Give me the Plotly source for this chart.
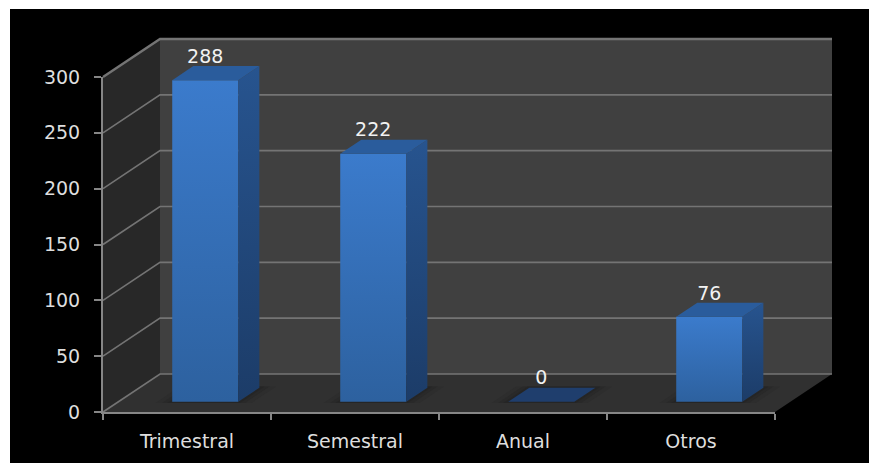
import plotly.graph_objects as go

# Chart data
categories = ["Trimestral", "Semestral", "Anual", "Otros"]
values = [288, 222, 0, 76]
y_ticks = [0, 50, 100, 150, 200, 250, 300]

# Canvas layout, in pixels
WIDTH, HEIGHT = 869, 463
PX_PER_X, PX_PER_Y = 168.0, 335 / 300
AXIS_LEFT, AXIS_BOTTOM = 103, 412
PAD = 3
FRAME_LEFT, FRAME_TOP = 10, 9

# Oblique projection: how far one unit of depth moves a point, in axis units
DEPTH_X = 57 / PX_PER_X
DEPTH_Y = 38 / PX_PER_Y
BAR_WIDTH = 0.393
BAR_NEAR = 0.27
BAR_FAR = 0.64
BAR_SHIFT = 0.017
Y_MAX = y_ticks[-1]
X_MIN, X_MAX = -0.5, len(categories) - 0.5

# The scene axes reach past the tick axes so the receding box fits inside them
PAD_X, PAD_Y = PAD / PX_PER_X, PAD / PX_PER_Y
scene_x = [X_MIN - PAD_X, X_MAX + DEPTH_X + PAD_X]
scene_y = [-PAD_Y, Y_MAX + DEPTH_Y + PAD_Y]
plot_w = 672 + 57 + 2 * PAD
plot_h = 335 + 38 + 2 * PAD
m_left = AXIS_LEFT - PAD
m_bottom = HEIGHT - AXIS_BOTTOM - PAD
m_right = WIDTH - m_left - plot_w
m_top = HEIGHT - m_bottom - plot_h


def proj(x, y, d):
    return x + d * DEPTH_X, y + d * DEPTH_Y


def polygon(points, color=None, gradient=None, opacity=1.0):
    xs, ys = zip(*points)
    kw = dict(fillcolor=color) if gradient is None else dict(
        fillgradient=dict(type="vertical", colorscale=[[0, gradient[0]], [1, gradient[1]]])
    )
    return go.Scatter(
        x=list(xs) + [xs[0]], y=list(ys) + [ys[0]], mode="lines", fill="toself",
        line=dict(width=0), opacity=opacity, hoverinfo="skip", showlegend=False, **kw,
    )


def wire(points, color="#747474", width=1.6):
    xs, ys = zip(*points)
    return go.Scatter(
        x=xs, y=ys, mode="lines", line=dict(color=color, width=width),
        hoverinfo="skip", showlegend=False,
    )


fig = go.Figure()

# Walls and floor of the box
fig.add_trace(polygon([proj(X_MIN, 0, 1), proj(X_MAX, 0, 1), proj(X_MAX, Y_MAX, 1), proj(X_MIN, Y_MAX, 1)], "#404040"))
fig.add_trace(polygon([proj(X_MIN, 0, 0), proj(X_MIN, 0, 1), proj(X_MIN, Y_MAX, 1), proj(X_MIN, Y_MAX, 0)], "#282828"))
fig.add_trace(polygon([proj(X_MIN, 0, 0), proj(X_MAX, 0, 0), proj(X_MAX, 0, 1), proj(X_MIN, 0, 1)], "#303030"))

# Gridlines run along the side wall and across the back wall
for t in y_ticks:
    fig.add_trace(wire([proj(X_MIN, t, 0), proj(X_MIN, t, 1), proj(X_MAX, t, 1)],
                       width=2.4 if t == Y_MAX else 1.6))

# Soft contact shadows on the floor
for i in range(len(categories)):
    c = i + BAR_SHIFT
    for grow, op in ((0.09, 0.25), (0.05, 0.4), (0.02, 0.5)):
        fig.add_trace(polygon([
            proj(c - BAR_WIDTH / 2 - grow, 0, BAR_NEAR - 0.03),
            proj(c + BAR_WIDTH / 2 + grow, 0, BAR_NEAR - 0.03),
            proj(c + BAR_WIDTH / 2 + grow, 0, BAR_FAR + 0.03),
            proj(c - BAR_WIDTH / 2 - grow, 0, BAR_FAR + 0.03),
        ], "#222222", opacity=op))

# Front faces
fig.add_trace(go.Bar(
    x=[i + BAR_SHIFT + BAR_NEAR * DEPTH_X for i in range(len(categories))],
    y=values,
    base=[BAR_NEAR * DEPTH_Y] * len(values),
    width=BAR_WIDTH,
    marker=dict(color="#3470b8", line=dict(width=0)),
    hoverinfo="skip", showlegend=False,
))

for i, v in enumerate(values):
    c = i + BAR_SHIFT
    l, r = c - BAR_WIDTH / 2, c + BAR_WIDTH / 2
    if v > 0:
        # Front shading, right side and lid
        fig.add_trace(polygon([proj(l, 0, BAR_NEAR), proj(r, 0, BAR_NEAR), proj(r, v, BAR_NEAR), proj(l, v, BAR_NEAR)],
                              gradient=("#2d619f", "#3b7bcc")))
        fig.add_trace(polygon([proj(r, 0, BAR_NEAR), proj(r, 0, BAR_FAR), proj(r, v, BAR_FAR), proj(r, v, BAR_NEAR)],
                              gradient=("#1c3c68", "#27548f")))
        fig.add_trace(polygon([proj(l, v, BAR_NEAR), proj(r, v, BAR_NEAR), proj(r, v, BAR_FAR), proj(l, v, BAR_FAR)],
                              "#2a5c9c"))
    else:
        # A zero-height column shows only its lid
        fig.add_trace(polygon([proj(l, v, BAR_NEAR), proj(r, v, BAR_NEAR), proj(r, v, BAR_FAR), proj(l, v, BAR_FAR)],
                              "#1f3e6d"))

# Value labels sit just above each lid
fig.add_trace(go.Scatter(
    x=[i + BAR_SHIFT + BAR_NEAR * DEPTH_X for i in range(len(categories))],
    y=[v + 29 for v in values],
    mode="text",
    text=[str(v) for v in values],
    textposition="middle center",
    textfont=dict(family="DejaVu Sans", size=19, color="#f2f2f2"),
    hoverinfo="skip", showlegend=False,
))

# The tick axes belong to the front plane of the box
fig.add_trace(go.Scatter(x=[0], y=[0], mode="markers", marker=dict(opacity=0), xaxis="x2", yaxis="y2",
                         hoverinfo="skip", showlegend=False))

# White page edge along the top and left of the black canvas
fig.add_shape(type="rect", xref="paper", yref="paper",
              x0=-m_left / plot_w, x1=(FRAME_LEFT - m_left) / plot_w,
              y0=-m_bottom / plot_h, y1=(HEIGHT - m_bottom) / plot_h,
              fillcolor="#ffffff", line=dict(width=0), layer="below")
fig.add_shape(type="rect", xref="paper", yref="paper",
              x0=-m_left / plot_w, x1=(WIDTH - m_left) / plot_w,
              y0=(HEIGHT - FRAME_TOP - m_bottom) / plot_h, y1=(HEIGHT - m_bottom) / plot_h,
              fillcolor="#ffffff", line=dict(width=0), layer="below")

axis_font = dict(family="DejaVu Sans", size=19, color="#dedede")
axis_grey = "#868686"
fig.update_layout(
    width=WIDTH, height=HEIGHT,
    margin=dict(l=m_left, r=m_right, t=m_top, b=m_bottom, pad=0, autoexpand=False),
    paper_bgcolor="#000000", plot_bgcolor="rgba(0,0,0,0)",
    showlegend=False, barmode="overlay",
    xaxis=dict(range=scene_x, visible=False, fixedrange=True, automargin=False),
    yaxis=dict(range=scene_y, visible=False, fixedrange=True, automargin=False),
    xaxis2=dict(
        domain=[PAD / plot_w, (PAD + 672) / plot_w],
        anchor="y2", automargin=False,
        range=[X_MIN, X_MAX], tickmode="array", tickvals=list(range(len(categories))), ticktext=categories,
        ticks="", showgrid=False, zeroline=False, showline=True, linecolor=axis_grey, linewidth=2,
        tickfont=axis_font, ticklabelstandoff=11,
        minor=dict(tickmode="array", tickvals=[i - 0.5 for i in range(len(categories) + 1)],
                   ticks="outside", ticklen=6, tickwidth=2, tickcolor=axis_grey, showgrid=False),
    ),
    yaxis2=dict(
        domain=[PAD / plot_h, (PAD + 335) / plot_h],
        anchor="x2", automargin=False,
        range=[0, Y_MAX], tickmode="array", tickvals=y_ticks,
        ticks="outside", ticklen=7, tickwidth=2, tickcolor=axis_grey,
        showgrid=False, zeroline=False, showline=True, linecolor=axis_grey, linewidth=2,
        tickfont=axis_font, ticklabelstandoff=10,
    ),
)

fig.write_html("out.html")
